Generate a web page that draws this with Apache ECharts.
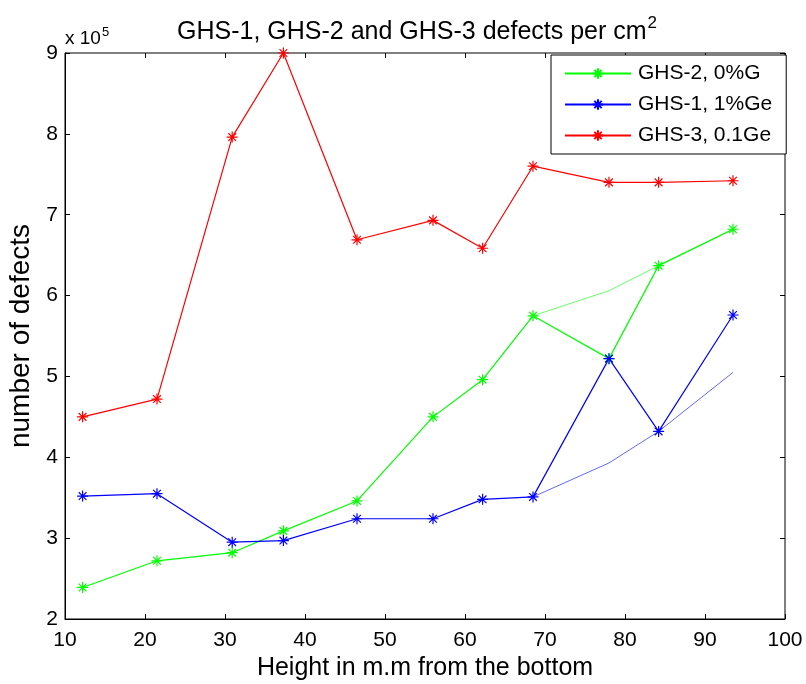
<!DOCTYPE html>
<html>
<head>
<meta charset="utf-8">
<script src="https://cdn.jsdelivr.net/npm/echarts@6/dist/echarts.min.js"></script>
<style>
  html, body { margin: 0; padding: 0; background: #fff; }
  #chart { width: 806px; height: 684px; }
</style>
</head>
<body>
<div id="chart"></div>
<script>
// heights (mm from the bottom)
const heights = [12.2, 21.5, 30.9, 37.3, 46.5, 56.0, 62.2, 68.5, 78.0, 84.2, 93.5];
// defects per cm^2, in units of 1e5
const ghs2 = [2.39, 2.72, 2.82, 3.09, 3.46, 4.50, 4.96, 5.75, 5.22, 6.37, 6.82];
const ghs1 = [3.52, 3.55, 2.95, 2.97, 3.24, 3.24, 3.48, 3.51, 5.22, 4.32, 5.76];
const ghs3 = [4.50, 4.72, 7.96, 9.00, 6.69, 6.93, 6.585, 7.60, 7.40, 7.40, 7.42];
// thin lines without markers (upper part only)
const trendHeights = [68.5, 78.0, 84.2, 93.5];
const ghs2Trend = [5.75, 6.06, 6.37, 6.82];
const ghs1Trend = [3.51, 3.93, 4.32, 5.05];

const xTicks = [10, 20, 30, 40, 50, 60, 70, 80, 90, 100];
const yTicks = [2, 3, 4, 5, 6, 7, 8, 9];

const FONT = "'Liberation Sans', Arial, sans-serif";
const STAR = "path://M5,0L5,10M0,5L10,5M1.5,1.5L8.5,8.5M1.5,8.5L8.5,1.5";

function zip(xs, ys) {
  return xs.map(function (x, i) { return [x, ys[i]]; });
}

function markedSeries(name, color, values) {
  return {
    name: name,
    type: "line",
    data: zip(heights, values),
    symbol: STAR,
    symbolSize: 11,
    clip: false,
    lineStyle: { color: color, width: 1.2 },
    itemStyle: { color: "transparent", borderColor: color, borderWidth: 1.2 },
    emphasis: { disabled: true },
    z: 3,
  };
}

function trendSeries(name, color, values) {
  return {
    name: name,
    type: "line",
    data: zip(trendHeights, values),
    showSymbol: false,
    symbol: "none",
    lineStyle: { color: color, width: 1, opacity: 0.6 },
    emphasis: { disabled: true },
    z: 2,
  };
}

const chart = echarts.init(document.getElementById("chart"));
const option = {
  animation: false,
  backgroundColor: "#fff",
  textStyle: { fontFamily: FONT },
  title: [
    {
      text: "{a|GHS-1, GHS-2 and GHS-3 defects per cm}{s|2}",
      left: 172,
      top: 10,
      textStyle: {
        fontWeight: "normal",
        rich: {
          a: { fontFamily: FONT, fontSize: 25, fontWeight: "normal", color: "#000", verticalAlign: "bottom", lineHeight: 30 },
          s: { fontFamily: FONT, fontSize: 17, fontWeight: "normal", color: "#000", verticalAlign: "top", lineHeight: 30, padding: [0, 0, 14, 1] },
        },
      },
    },
    {
      text: "{a|x 10}{s|5}",
      left: 60,
      top: 22,
      textStyle: {
        fontWeight: "normal",
        rich: {
          a: { fontFamily: FONT, fontSize: 19, fontWeight: "normal", color: "#000", lineHeight: 24 },
          s: { fontFamily: FONT, fontSize: 13, fontWeight: "normal", color: "#000", lineHeight: 24, padding: [0, 0, 14, 1] },
        },
      },
    },
  ],
  legend: {
    data: ["GHS-2, 0%G", "GHS-1, 1%Ge", "GHS-3, 0.1Ge"],
    orient: "vertical",
    left: 551,
    top: 55,
    width: 235,
    padding: [8, 14, 8, 13],
    itemGap: 10,
    itemWidth: 66,
    itemHeight: 13,
    backgroundColor: "#fff",
    borderColor: "#000",
    borderWidth: 1,
    borderRadius: 0,
    textStyle: { fontFamily: FONT, fontSize: 21, color: "#000", lineHeight: 21, padding: [0, 0, 0, 2] },
  },
  grid: {
    left: 65,
    right: 21,
    top: 53,
    bottom: 65,
    outerBoundsMode: "none",
    containLabel: false,
    show: true,
    borderColor: "#000",
    borderWidth: 1,
    backgroundColor: "#fff",
  },
  xAxis: [
    {
      type: "value",
      min: xTicks[0],
      max: xTicks[xTicks.length - 1],
      interval: 10,
      name: "Height in m.m from the bottom",
      nameLocation: "middle",
      nameGap: 37,
      nameTextStyle: { fontFamily: FONT, fontSize: 25, color: "#000" },
      axisLine: { show: true, lineStyle: { color: "#000", width: 1 } },
      axisTick: { show: true, inside: true, length: 5, lineStyle: { color: "#000" } },
      axisLabel: { fontFamily: FONT, fontSize: 21, color: "#000", margin: 11 },
      splitLine: { show: false },
    },
    {
      type: "value",
      position: "top",
      min: xTicks[0],
      max: xTicks[xTicks.length - 1],
      interval: 10,
      axisLine: { show: false },
      axisTick: { show: true, inside: true, length: 5, lineStyle: { color: "#000" } },
      axisLabel: { show: false },
      splitLine: { show: false },
    },
  ],
  yAxis: [
    {
      type: "value",
      min: yTicks[0],
      max: yTicks[yTicks.length - 1],
      interval: 1,
      name: "number of defects",
      nameLocation: "middle",
      nameGap: 24,
      nameTextStyle: { fontFamily: FONT, fontSize: 28, color: "#000" },
      axisLine: { show: true, lineStyle: { color: "#000", width: 1 } },
      axisTick: { show: true, inside: true, length: 5, lineStyle: { color: "#000" } },
      axisLabel: { fontFamily: FONT, fontSize: 21, color: "#000", margin: 7 },
      splitLine: { show: false },
    },
    {
      type: "value",
      position: "right",
      min: yTicks[0],
      max: yTicks[yTicks.length - 1],
      interval: 1,
      axisLine: { show: false },
      axisTick: { show: true, inside: true, length: 5, lineStyle: { color: "#000" } },
      axisLabel: { show: false },
      splitLine: { show: false },
    },
  ],
  series: [
    trendSeries("GHS-2 trend", "#00ff00", ghs2Trend),
    trendSeries("GHS-1 trend", "#0000ff", ghs1Trend),
    markedSeries("GHS-2, 0%G", "#00ff00", ghs2),
    markedSeries("GHS-1, 1%Ge", "#0000ff", ghs1),
    markedSeries("GHS-3, 0.1Ge", "#ff0000", ghs3),
  ],
};
chart.setOption(option);
window.addEventListener("resize", function () {
  chart.resize();
});
</script>
</body>
</html>
